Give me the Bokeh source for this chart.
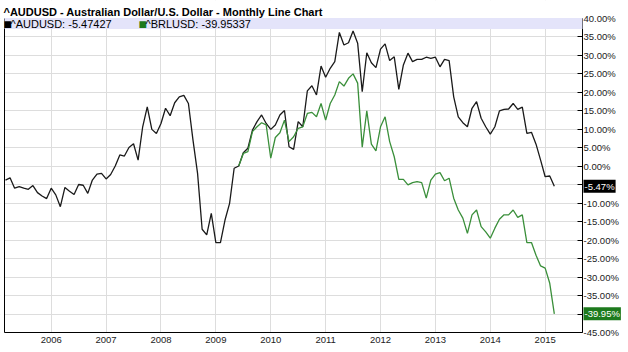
import numpy as np
from bokeh.plotting import figure
from bokeh.models import (Range1d, FixedTicker, PrintfTickFormatter, BoxAnnotation,
                          Label, LinearAxis, ColumnDataSource)
from bokeh.embed import file_html
from bokeh.resources import INLINE

title_text = "^AUDUSD - Australian Dollar/U.S. Dollar - Monthly Line Chart"
first_year, first_month = 2005, 3  # monthly series starts March 2005

aud_name = "^AUDUSD"
aud_last = -5.47427
aud_pct = [
    -3.8, -3.2, -6.0, -5.6, -6.0, -6.3, -5.3, -7.2, -8.1, -8.8,
    -6.0, -7.8, -11.0, -5.8, -6.8, -7.7, -5.0, -5.2, -7.4, -3.8, -2.2, -2.0,
    -3.5, -2.3, 0.0, 3.0, 2.7, 5.0, 6.0, 1.6, 10.6, 16.0, 9.9, 8.8,
    11.5, 15.6, 13.6, 17.1, 18.7, 19.1, 16.9, 7.0, -2.0, -17.1, -18.6, -12.8,
    -20.7, -20.7, -14.6, -10.1, -0.6, 0.0, 3.6, 4.8, 9.7, 12.0, 13.8, 11.5,
    9.9, 11.1, 13.8, 15.0, 5.2, 4.5, 12.0, 10.6, 20.3, 21.7, 19.2, 27.0,
    24.0, 26.4, 28.2, 36.1, 32.7, 33.3, 36.5, 33.2, 20.1, 30.6, 27.9, 26.6,
    31.6, 33.0, 28.5, 29.5, 20.7, 27.3, 30.5, 28.2, 28.8, 28.8, 29.4, 29.1,
    29.4, 26.8, 28.8, 28.5, 18.7, 13.3, 11.7, 10.6, 15.6, 17.4, 12.9, 10.6,
    8.6, 10.6, 14.9, 15.3, 15.4, 16.9, 15.3, 15.9, 8.8, 9.1, 5.9, 1.6,
    -2.9, -2.7, aud_last,
]

brl_name = "^BRLUSD"
brl_last = -39.95337
brl_start_index = 51  # June 2009
brl_pct = [
    0.0, 3.4, 3.9, 9.3, 10.6, 11.7, 11.1,
    2.1, 7.7, 9.0, 12.4, 6.6, 7.9, 10.2, 10.6, 14.2, 14.5, 13.3, 16.9,
    12.4, 16.9, 19.2, 22.8, 21.6, 23.7, 24.9, 22.4, 5.1, 14.9, 5.9, 4.1,
    10.6, 13.3, 6.6, 2.5, -3.6, -3.6, -5.1, -4.5, -4.2, -4.5, -8.7, -3.8,
    -2.2, -1.8, -4.0, -3.3, -8.7, -11.9, -14.1, -18.2, -13.2, -11.9, -16.4, -17.8,
    -19.5, -16.8, -14.4, -13.2, -13.2, -11.9, -13.9, -13.2, -20.7, -20.7, -24.1, -27.0,
    -27.6, -31.7, brl_last,
]

year_ticks = [2006, 2007, 2008, 2009, 2010, 2011, 2012, 2013, 2014, 2015]
pct_ticks = [40, 35, 30, 25, 20, 15, 10, 5, 0, -5, -10, -15, -20, -25, -30, -35, -40, -45]
hidden_pct_labels = [-5, -40]

aud_color = "#1a1a1a"
brl_color = "#3a8f3a"
brl_badge = "#1d7a1d"
font = "Liberation Sans"

x_all = [first_year + (first_month - 1 + i) / 12.0 for i in range(len(aud_pct))]
aud_src = ColumnDataSource(dict(x=x_all, y=aud_pct))
brl_src = ColumnDataSource(dict(x=x_all[brl_start_index:brl_start_index + len(brl_pct)], y=brl_pct))

# Geometry: the frame fills the canvas; the chart box is x0..x1 / y0..y1 inside it.
W, H = 628, 352
left_px, axis_px, top_px, bottom_px = 4, 582, 17.5, 332
x0, x1 = 2005.149, 2015.68
y0, y1 = -45, 40
sx = (axis_px - left_px) / (x1 - x0)
sy = (bottom_px - top_px) / (y1 - y0)
x_start, x_end = x0 - left_px / sx, x0 + (W - left_px) / sx
y_start, y_end = y0 - (H - bottom_px) / sy, y1 + top_px / sy

p = figure(width=W, height=H, x_range=Range1d(x_start, x_end), y_range=Range1d(y_start, y_end),
           y_axis_location="right", output_backend="svg", toolbar_location=None,
           min_border_left=0, min_border_right=0, min_border_top=0, min_border_bottom=0,
           outline_line_color=None, background_fill_color="white", border_fill_color="white")

xa = p.xaxis[0]
xa.fixed_location = y0
xa.ticker = FixedTicker(ticks=year_ticks)
xa.bounds = (x0, x1)
xa.major_tick_in = 0
xa.major_tick_out = 0
xa.minor_tick_in = 0
xa.minor_tick_out = 0
xa.axis_line_color = "black"
xa.major_label_text_font = font
xa.major_label_text_font_size = "9.5px"
xa.major_label_text_color = "#222222"
xa.major_label_standoff = 4

ya = p.yaxis[0]
ya.fixed_location = x1
ya.bounds = (y0, y1)
ya.ticker = FixedTicker(ticks=pct_ticks)
ya.formatter = PrintfTickFormatter(format="%.2f%%")
ya.major_label_overrides = {float(v): "" for v in hidden_pct_labels}
ya.major_tick_in = 5
ya.major_tick_out = 0
ya.minor_tick_in = 0
ya.minor_tick_out = 0
ya.axis_line_color = "black"
ya.major_tick_line_color = "black"
ya.major_label_text_font = font
ya.major_label_text_font_size = "9.5px"
ya.major_label_text_color = "#222222"
ya.major_label_standoff = 1

left_line = LinearAxis(fixed_location=x0, bounds=(y0, y1), ticker=FixedTicker(ticks=[]),
                       major_tick_in=0, major_tick_out=0, minor_tick_in=0, minor_tick_out=0,
                       axis_line_color="black", major_label_text_font_size="0px")
p.add_layout(left_line, "left")

p.xgrid.grid_line_color = "#dddddd"
p.ygrid.grid_line_color = "#dddddd"

# white margins around the chart box (hide grid lines outside it)
for kw in (dict(left=x1), dict(right=x0), dict(bottom=y1), dict(top=y0)):
    p.add_layout(BoxAnnotation(fill_color="white", fill_alpha=1.0, line_color=None,
                               level="underlay", **kw))

p.line("x", "y", source=aud_src, line_color=aud_color, line_width=1.3)
p.line("x", "y", source=brl_src, line_color=brl_color, line_width=1.3)

# title
p.add_layout(Label(x=3, y=H - 11.5, x_units="screen", y_units="screen", text=title_text,
                   text_font=font, text_font_size="11px", text_font_style="bold",
                   text_color="black", text_baseline="alphabetic"))

# legend band
p.add_layout(BoxAnnotation(bottom=37.0, top=y1, left=x0, right=x1, fill_color="#e4e4fa",
                           fill_alpha=1.0, line_color=None))
legend_y = 38.5
p.add_layout(Label(x=x0, y=legend_y, x_offset=-1, text="■", text_color="black",
                   text_font_size="14px", text_baseline="middle", text_font=font))
p.add_layout(Label(x=x0, y=legend_y, x_offset=6, text=f"{aud_name}: {aud_last}",
                   text_color="black", text_font_size="11px", text_baseline="middle",
                   text_font=font))
p.add_layout(Label(x=x0, y=legend_y, x_offset=134, text="■", text_color=brl_badge,
                   text_font_size="14px", text_baseline="middle", text_font=font))
p.add_layout(Label(x=x0, y=legend_y, x_offset=141, text=f"{brl_name}: {brl_last}",
                   text_color="black", text_font_size="11px", text_baseline="middle",
                   text_font=font))

# last value badges next to the value axis
p.add_layout(Label(x=x1, y=aud_last, x_offset=1, text=f"{aud_last:.2f}%", text_color="white",
                   background_fill_color="black", text_font_size="9.5px",
                   text_baseline="middle", text_font=font, padding=1))
p.add_layout(Label(x=x1, y=brl_last, x_offset=1, text=f"{brl_last:.2f}%", text_color="white",
                   background_fill_color=brl_badge, text_font_size="9.5px",
                   text_baseline="middle", text_font=font, padding=1))

open("out.html", "w").write(file_html(p, INLINE))
